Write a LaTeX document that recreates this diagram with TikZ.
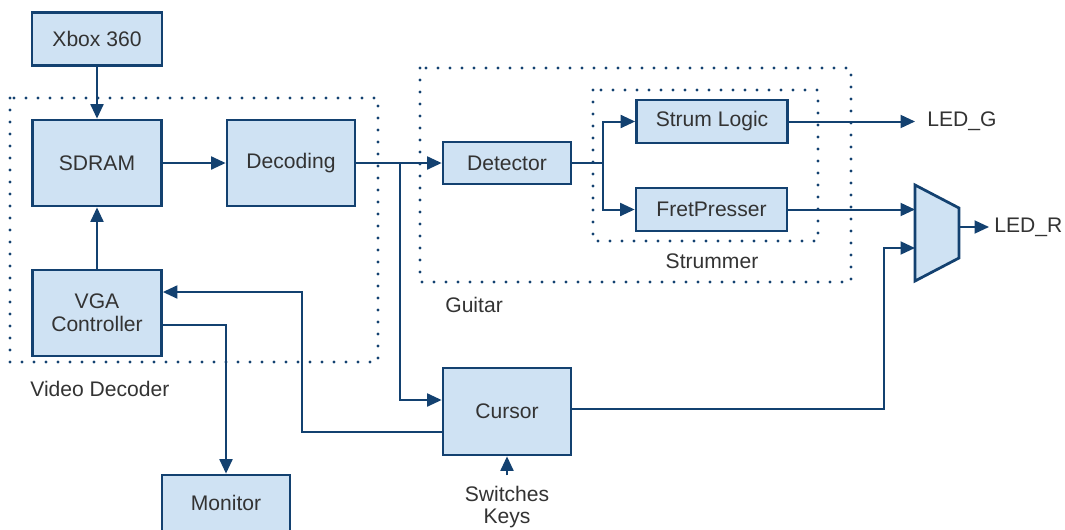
\documentclass[tikz,border=0pt]{standalone}
\usepackage{fontspec}
\setmainfont{Liberation Sans}
\usetikzlibrary{arrows.meta}

\definecolor{boxfill}{RGB}{207,226,243}
\definecolor{boxline}{RGB}{19,65,112}
\definecolor{labeltext}{RGB}{51,51,51}

\tikzset{
  block/.style={draw=boxline, fill=boxfill, line width=0.055cm, text=labeltext, inner sep=0pt, align=center},
  wire/.style={draw=boxline, line width=0.04cm, -{Triangle[length=0.29cm,width=0.26cm]}},
  plainwire/.style={draw=boxline, line width=0.04cm},
  group/.style={draw=boxline, line width=0.065cm, line cap=round, dash pattern=on 0pt off 0.24cm},
  caption/.style={text=labeltext, inner sep=0pt, align=center},
}

\begin{document}
\begin{tikzpicture}
                \useasboundingbox (0.000000,0.000000) rectangle (21.300000,10.580000);
                {\fontsize{12}{13}\selectfont

                % Dotted frames for the three groups
                \draw [group] (0.200000,8.620000) rectangle (7.560000,3.340000);%
                \draw [group] (8.400000,9.220000) rectangle (17.020000,4.940000);%
                \draw [group] (11.860000,8.780000) rectangle (16.360000,5.760000);%
                \node (viddec) [caption, anchor=west] at (0.600000,2.800000) {Video Decoder};%
                \node (guitar) [caption, anchor=west] at (8.900000,4.480000) {Guitar};%
                \node (strummer) [caption] at (14.240000,5.360000) {Strummer};%

                % Blocks of the video path
                \node (xbox) [block, minimum width=2.600000cm, minimum height=1.060000cm] at (1.940000,9.800000) {Xbox 360};%
                \node (sdram) [block, minimum width=2.580000cm, minimum height=1.720000cm] at (1.940000,7.320000) {SDRAM};%
                \node (decoding) [block, minimum width=2.560000cm, minimum height=1.720000cm] at (5.820000,7.320000) {Decoding};%
                \node (vga) [block, minimum width=2.580000cm, minimum height=1.720000cm] at (1.940000,4.320000) {VGA\\Controller};%
                \node (monitor) [block, minimum width=2.560000cm, minimum height=1.120000cm] at (4.520000,0.520000) {Monitor};%

                % Blocks of the guitar path
                \node (detector) [block, minimum width=2.560000cm, minimum height=0.840000cm] at (10.140000,7.320000) {Detector};%
                \node (strum) [block, minimum width=3.020000cm, minimum height=0.860000cm] at (14.240000,8.150000) {Strum Logic};%
                \node (fret) [block, minimum width=3.020000cm, minimum height=0.860000cm] at (14.230000,6.390000) {FretPresser};%
                \node (cursor) [block, minimum width=2.560000cm, minimum height=1.740000cm] at (10.140000,2.350000) {Cursor};%
                \node (switches) [caption, inner ysep=0.200000cm] at (10.140000,0.440000) {Switches\\Keys};%

                % Drawing the multiplexer
                \draw [block] (18.300000,6.880000) -- (19.180000,6.420000) -- (19.180000,5.420000) -- (18.300000,4.960000) -- cycle;%
                \coordinate (muxina) at (18.300000,6.390000);%
                \coordinate (muxinb) at (18.300000,5.620000);%
                \coordinate (muxout) at (19.180000,6.040000);%

                % Output labels
                \node (ledg) [caption, anchor=west, inner xsep=0.240000cm] at (18.300000,8.150000) {LED\_G};%
                \node (ledr) [caption, anchor=west, inner xsep=0.100000cm] at (19.780000,6.040000) {LED\_R};%

                % Bend points of the wires
                \coordinate (split) at (8.000000,7.320000);%
                \coordinate (fork) at (12.060000,7.320000);%
                \coordinate (vgabend) at (6.040000,4.740000);%
                \coordinate (muxbend) at (17.680000,5.620000);%

                % Drawing wires of the video path
                \draw [wire] (xbox) -- (sdram);%
                \draw [wire] (sdram) -- (decoding);%
                \draw [wire] (vga) -- (sdram);%
                \draw [wire] ([yshift=-0.240000cm]vga.east) -| (monitor.north);%
                \draw [wire] ([yshift=-0.410000cm]cursor.west) -| (vgabend) -- ([yshift=0.420000cm]vga.east);%

                % Drawing wires of the guitar path
                \draw [wire] (decoding.east) -- (split) -- (detector.west);%
                \draw [wire] (split) |- ([yshift=0.230000cm]cursor.west);%
                \draw [plainwire] (detector.east) -- (fork);%
                \draw [wire] (fork) |- (strum.west);%
                \draw [wire] (fork) |- (fret.west);%
                \draw [wire] (strum.east) -- (ledg.west);%
                \draw [wire] (fret.east) -- (muxina);%
                \draw [wire] ([yshift=0.050000cm]cursor.east) -| (muxbend) -- (muxinb);%
                \draw [wire] (muxout) -- (ledr.west);%
                \draw [wire] (switches.north) -- (cursor.south);%
                }
\end{tikzpicture}
\end{document}
